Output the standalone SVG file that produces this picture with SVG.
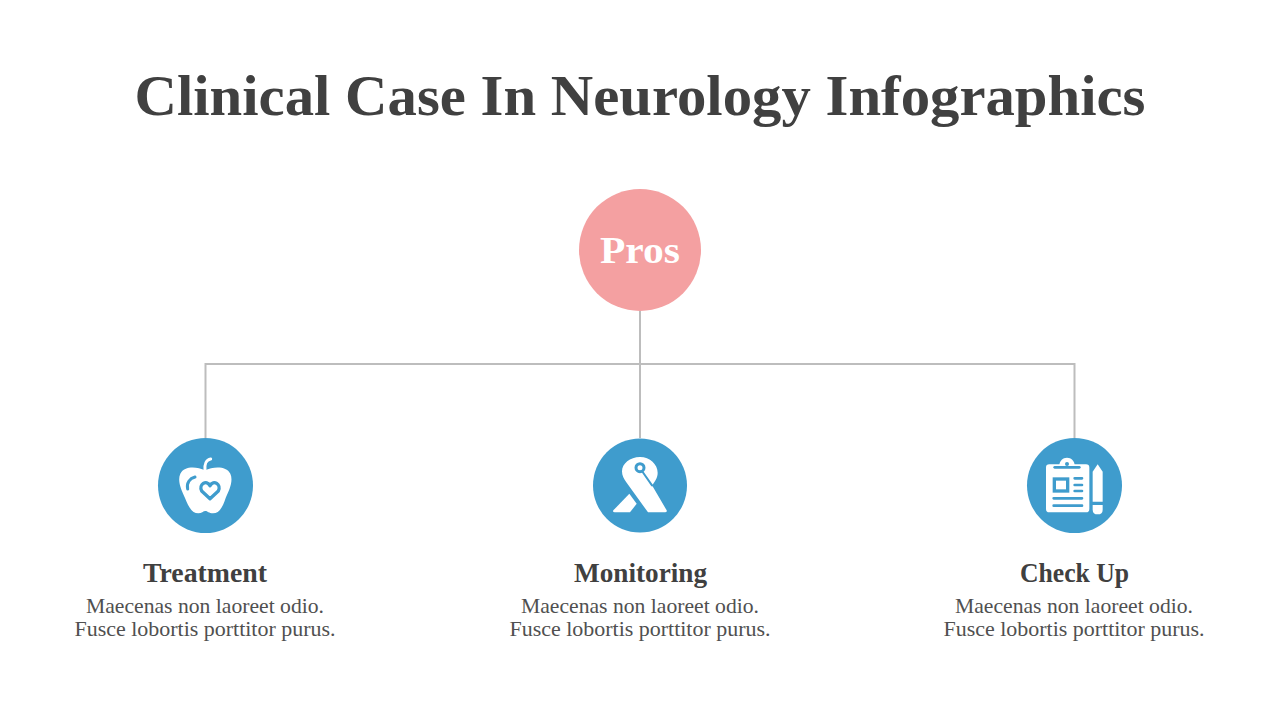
<svg xmlns="http://www.w3.org/2000/svg" width="1280" height="720" viewBox="0 0 1280 720">
<style>
text{font-family:"Liberation Serif","DejaVu Serif",serif;text-anchor:middle}
.title{font-size:58px;font-weight:700;fill:#404040}
.pros{font-size:38px;font-weight:700;fill:#fff}
.head{font-size:27px;font-weight:700;fill:#404040}
.body{font-size:21px;fill:#505050}
.conn{fill:none;stroke:#bdbdbd;stroke-width:2}
.blue{fill:#3f9ccd}
.w{fill:#fff}
.bs{fill:none;stroke:#3f9ccd;stroke-linecap:round;stroke-linejoin:round}
</style>
<rect width="1280" height="720" fill="#fff"/>
<text id="title" class="title" x="640" y="115" textLength="1011" lengthAdjust="spacingAndGlyphs">Clinical Case In Neurology Infographics</text>
<g id="connectors">
<path class="conn" d="M640 311V438M205.500 438V364H1074.500V438"/>
</g>
<g id="pros"><circle cx="640" cy="250" r="61" fill="#f4a0a1"/><text class="pros" x="640" y="263" textLength="80" lengthAdjust="spacingAndGlyphs">Pros</text></g>
<g id="treatment">
<circle class="blue" cx="205.500" cy="485.500" r="47.500"/>
<g transform="translate(175 453) scale(.33333)">
<path class="w" d="M90 52C65 40 28 38 16 62C6 85 20 112 30 135C40 160 50 181 70 181C80 181 85 174 91 174C97 174 102 181 114 181C134 181 144 160 152 135C162 112 176 85 166 62C154 38 115 40 90 52Z"/>
<path d="M90 52C88 34 94 20 107 18" fill="none" stroke="#fff" stroke-width="9" stroke-linecap="round"/>
<path class="bs" stroke-width="9" d="M60 72C44 76 34 90 38 108"/>
<path class="bs" stroke-width="10" d="M105 137L80 114C70 95 95 78 105 98C115 78 140 95 130 114Z"/>
</g>
<text class="head" x="205" y="582" textLength="124" lengthAdjust="spacingAndGlyphs">Treatment</text>
<text class="body" x="205" y="613" textLength="238" lengthAdjust="spacingAndGlyphs">Maecenas non laoreet odio.</text>
<text class="body" x="205" y="636" textLength="261" lengthAdjust="spacingAndGlyphs">Fusce lobortis porttitor purus.</text>
</g>
<g id="monitoring">
<circle class="blue" cx="640" cy="485.500" r="47"/>
<g transform="translate(610 452) scale(.33333)">
<path class="w" d="M90 15C120 15 143 38 143 62C143 78 134 90 126 100L170 175Q172 181 165 181L114 181L50 92C41 80 36 70 36 58C36 35 60 15 90 15Z"/>
<path class="w" d="M58 125L10 175Q7 181 14 181L60 181L80 155Z"/>
<path class="bs" stroke-width="6" d="M98 60L126 100"/>
<circle cx="90" cy="47" r="12" fill="#fff" stroke="#3f9ccd" stroke-width="9"/>
</g>
<text class="head" x="640.500" y="582" textLength="133" lengthAdjust="spacingAndGlyphs">Monitoring</text>
<text class="body" x="640" y="613" textLength="238" lengthAdjust="spacingAndGlyphs">Maecenas non laoreet odio.</text>
<text class="body" x="640" y="636" textLength="261" lengthAdjust="spacingAndGlyphs">Fusce lobortis porttitor purus.</text>
</g>
<g id="checkup">
<circle class="blue" cx="1074.500" cy="485.500" r="47.500"/>
<g transform="translate(1042 455) scale(.33333)">
<rect class="w" x="12" y="28" width="130" height="144" rx="10"/>
<path class="w" d="M52 32C52 18 62 8 75 8C88 8 98 18 98 32Z"/>
<path class="bs" stroke-width="8" d="M38 37H112"/>
<circle cx="75" cy="27" r="6" class="blue"/>
<rect x="37" y="72" width="40" height="36" fill="none" stroke="#3f9ccd" stroke-width="10"/>
<path class="bs" stroke-width="8" d="M98 70H120M98 90H120M98 108H120M35 130H120M35 152H120"/>
<path class="w" d="M152 50L167 28L182 50V140H152Z"/>
<path class="w" d="M152 150H182V164Q182 178 167 178Q152 178 152 164Z"/>
</g>
<text class="head" x="1074.500" y="582" textLength="109" lengthAdjust="spacingAndGlyphs">Check Up</text>
<text class="body" x="1074" y="613" textLength="238" lengthAdjust="spacingAndGlyphs">Maecenas non laoreet odio.</text>
<text class="body" x="1074" y="636" textLength="261" lengthAdjust="spacingAndGlyphs">Fusce lobortis porttitor purus.</text>
</g>
</svg>
